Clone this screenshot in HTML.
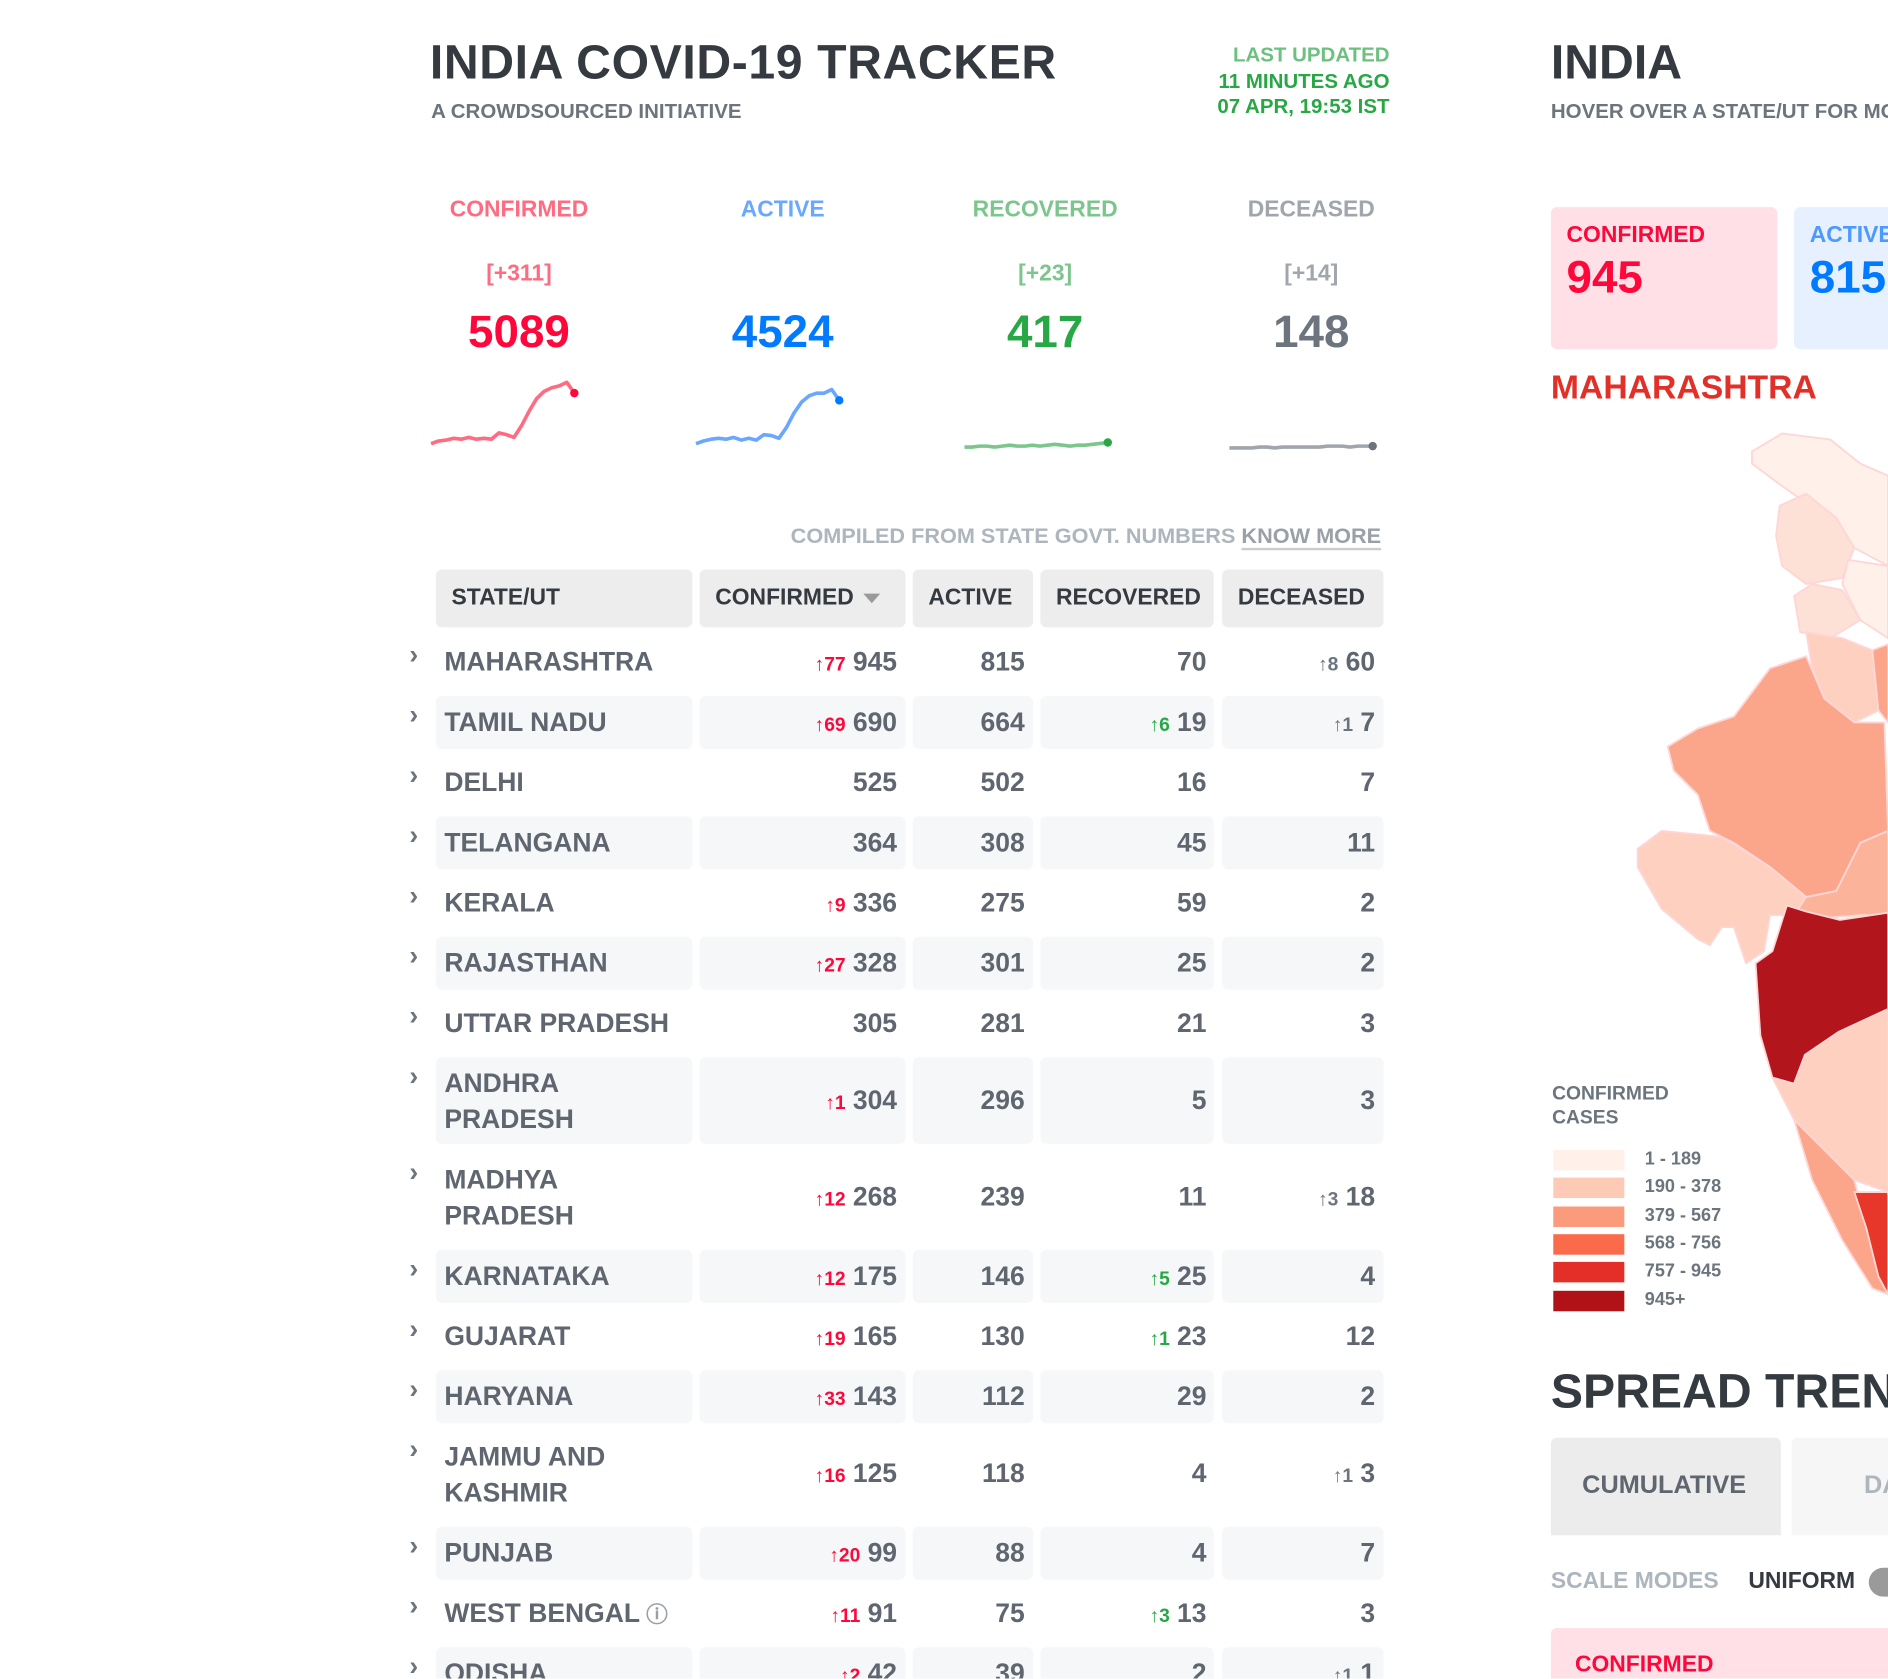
<!DOCTYPE html>
<html><head><meta charset="utf-8">
<style>
html,body{margin:0;padding:0;background:#fff;width:1888px;height:1678px;overflow:hidden;font-family:"Liberation Sans",sans-serif;}
#wrap{position:absolute;left:0;top:0;width:1568px;height:1394px;transform:scale(1.2041);transform-origin:0 0;overflow:hidden;}
.a{position:absolute;white-space:nowrap;font-weight:bold;}
.cell{position:absolute;border-radius:5px;box-sizing:border-box;}
.hd{background:#ededed;color:#343a40;font-size:19px;line-height:48px;padding-left:13px;font-weight:bold;}
.num{font-size:22px;color:#5f6670;font-weight:bold;position:absolute;text-align:right;}
.dl{font-size:16px;margin-right:6px;}
</style></head><body>
<div id="wrap">
<div class="a" style="left:357px;top:30px;font-size:40px;color:#343a40;letter-spacing:0.5px">INDIA COVID-19 TRACKER</div>
<div class="a" style="left:358px;top:83px;font-size:17px;color:#6c757d">A CROWDSOURCED INITIATIVE</div>
<div class="a" style="right:414px;top:35px;font-size:17px;line-height:21.5px;text-align:right;color:#28a745"><span style="color:#6cc17e">LAST UPDATED</span><br>11 MINUTES AGO<br>07 APR, 19:53 IST</div>
<div class="a" style="left:1288px;top:30px;font-size:40px;color:#343a40">INDIA</div>
<div class="a" style="left:1288px;top:83px;font-size:17px;color:#6c757d">HOVER OVER A STATE/UT FOR MORE DETAILS</div>

<div id="stats"></div>
<svg id="spark" width="1568" height="420" style="position:absolute;left:0;top:0"></svg>

<div class="a" style="right:421px;top:435px;font-size:18px;color:#adb5bd">COMPILED FROM STATE GOVT. NUMBERS <span style="color:#9aa0a6;border-bottom:2px solid #ccc">KNOW MORE</span></div>

<div class="cell hd" style="left:362px;top:473px;width:213px;height:48px">STATE/UT</div>
<div class="cell hd" style="left:581px;top:473px;width:171px;height:48px">CONFIRMED <span style="display:inline-block;width:0;height:0;border-left:7px solid transparent;border-right:7px solid transparent;border-top:8px solid #9a9a9a;vertical-align:middle;margin-left:3px"></span></div>
<div class="cell hd" style="left:758px;top:473px;width:100px;height:48px">ACTIVE</div>
<div class="cell hd" style="left:864px;top:473px;width:144px;height:48px">RECOVERED</div>
<div class="cell hd" style="left:1015px;top:473px;width:134px;height:48px">DECEASED</div>
<div id="rows"></div>

<div class="cell" style="left:1288px;top:172px;width:188px;height:118px;background:#ffe0e6"></div>
<div class="a" style="left:1301px;top:185px;font-size:19px;color:#ff073a">CONFIRMED</div>
<div class="a" style="left:1301px;top:210px;font-size:38px;color:#ff073a">945</div>
<div class="cell" style="left:1490px;top:172px;width:188px;height:118px;background:#e6f0ff"></div>
<div class="a" style="left:1503px;top:185px;font-size:19px;color:#4c9aff">ACTIVE</div>
<div class="a" style="left:1503px;top:210px;font-size:38px;color:#007bff">815</div>
<div class="a" style="left:1288px;top:306px;font-size:28px;color:#e23028">MAHARASHTRA</div>

<svg width="1568" height="1394" style="position:absolute;left:0;top:0" stroke="#ffd6d6" stroke-width="1.5">
<polygon fill="#fff0ea" points="1455,375 1480,360 1520,365 1545,385 1568,395 1568,470 1540,455 1510,425 1475,400 1455,385"/>
<polygon fill="#fde0d6" points="1478,420 1500,410 1525,430 1540,455 1530,480 1500,485 1480,470 1475,445"/>
<polygon fill="#fff0ea" points="1535,465 1568,470 1568,530 1545,515 1530,485"/>
<polygon fill="#fde0d6" points="1490,495 1505,485 1530,490 1545,515 1520,530 1495,525"/>
<polygon fill="#fdd0c0" points="1500,525 1530,530 1555,540 1560,590 1540,600 1515,580 1505,555"/>
<polygon fill="#fba68a" points="1555,540 1568,535 1568,600 1560,590"/>
<polygon fill="#fba68a" points="1385,620 1410,605 1440,595 1470,555 1500,545 1515,580 1540,600 1565,600 1568,690 1545,700 1525,740 1500,745 1470,720 1440,700 1420,690 1410,660 1390,640"/>
<polygon fill="#fdd0c0" points="1360,705 1380,690 1430,695 1470,720 1500,745 1490,760 1470,760 1465,790 1450,800 1440,770 1430,770 1420,785 1410,780 1380,755 1360,720"/>
<polygon fill="#fbb49a" points="1500,745 1525,740 1545,700 1568,690 1568,760 1545,760 1520,762 1490,760"/>
<polygon fill="#b3151d" points="1458,800 1472,790 1484,752 1500,757 1528,764 1568,758 1568,838 1527,857 1499,876 1490,900 1472,895 1462,860"/>
<polygon fill="#fdd0c0" points="1472,895 1490,900 1499,876 1527,857 1568,838 1568,990 1540,980 1510,950 1490,930"/>
<polygon fill="#fba68a" points="1490,930 1510,950 1540,980 1550,1020 1560,1060 1568,1075 1555,1070 1530,1030 1505,980"/>
<polygon fill="#e6372a" points="1540,990 1568,990 1568,1075 1560,1060 1550,1020"/>
</svg>

<div class="a" style="left:1289px;top:899px;font-size:16px;line-height:20px;color:#6c757d">CONFIRMED<br>CASES</div>
<div id="legend"></div>

<div class="a" style="left:1288px;top:1134px;font-size:40px;color:#343a40">SPREAD TRENDS</div>
<div class="cell" style="left:1288px;top:1194px;width:191px;height:81px;background:#ececec;border-radius:5px 5px 0 0"></div>
<div class="a" style="left:1314px;top:1222px;font-size:21px;color:#5f6670">CUMULATIVE</div>
<div class="cell" style="left:1488px;top:1194px;width:191px;height:81px;background:#f6f6f6;border-radius:5px 5px 0 0"></div>
<div class="a" style="left:1548px;top:1222px;font-size:21px;color:#adb5bd">DAILY</div>
<div class="a" style="left:1288px;top:1303px;font-size:19px;color:#adb5bd">SCALE MODES</div>
<div class="a" style="left:1452px;top:1303px;font-size:19px;color:#343a40">UNIFORM</div>
<div class="cell" style="left:1552px;top:1302px;width:40px;height:24px;border-radius:12px;background:#9a9a9a"></div>
<div class="cell" style="left:1288px;top:1352px;width:300px;height:60px;background:#ffe0e6"></div>
<div class="a" style="left:1308px;top:1372px;font-size:19px;color:#ff073a">CONFIRMED</div>
</div>

<script>
const statLabels = ["CONFIRMED","ACTIVE","RECOVERED","DECEASED"];
const statDeltas = ["[+311]","","[+23]","[+14]"];
const statTotals = ["5089","4524","417","148"];
const statCenters = [431,650,868,1089];
const statLabelColors = ["#ff6b81","#6aa8ff","#7cc58c","#a0a6ab"];
const statColors = ["#ff073a","#007bff","#28a745","#6c757d"];
const statsEl = document.getElementById('stats');
statLabels.forEach((l,i)=>{
  const mk=(txt,tp,size,col,name)=>{const d=document.createElement('div');d.className='a';d.textContent=txt;
    d.style.cssText=`left:${statCenters[i]-150}px;width:300px;text-align:center;top:${tp}px;font-size:${size}px;color:${col}`;
    
    
    statsEl.appendChild(d);};
  mk(l,164,19,statLabelColors[i],'stat-label');
  mk(statDeltas[i],217,19,statLabelColors[i],'stat-delta');
  mk(statTotals[i],255,38,statColors[i],'stat-total');
});

const sparkConfirmed = [2,5,6,8,7,9,7,8,7,14,12,9,22,38,52,60,64,66,70,58];
const sparkActive = [2,5,7,8,7,9,6,8,6,12,11,8,20,36,48,55,58,58,62,50];
const sparkRecovered = [1,1,2,2,1,2,3,2,2,3,2,3,4,3,2,3,3,4,5,6];
const sparkDeceased = [0,0,0,0,1,1,0,1,1,1,1,1,1,2,2,2,1,2,2,2];
const sparkSeries=[sparkConfirmed,sparkActive,sparkRecovered,sparkDeceased];
const sparkLeft=[358,578,801,1021];
const sparkW=119, sparkBase=[370,370,372,372], sparkScale=0.75;
const sparkSvg=document.getElementById('spark');
const lineCols=["#ff6b81","#6aa8ff","#7cc58c","#a0a6ab"];
sparkSeries.forEach((s,i)=>{
  const x=j=>sparkLeft[i]+j*sparkW/(s.length-1);
  const y=v=>sparkBase[i]-v*sparkScale;
  const p=document.createElementNS('http://www.w3.org/2000/svg','polyline');
  p.setAttribute('points',s.map((v,j)=>x(j)+','+y(v)).join(' '));
  p.setAttribute('fill','none');p.setAttribute('stroke',lineCols[i]);p.setAttribute('stroke-width','3');p.setAttribute('stroke-linejoin','round');
  
  
  sparkSvg.appendChild(p);
  const c=document.createElementNS('http://www.w3.org/2000/svg','circle');
  c.setAttribute('cx',x(s.length-1));c.setAttribute('cy',y(s[s.length-1]));c.setAttribute('r','3.5');c.setAttribute('fill',statColors[i]);
  
  
  sparkSvg.appendChild(c);
});

const stateNames=["MAHARASHTRA","TAMIL NADU","DELHI","TELANGANA","KERALA","RAJASTHAN","UTTAR PRADESH","ANDHRA\nPRADESH","MADHYA\nPRADESH","KARNATAKA","GUJARAT","HARYANA","JAMMU AND\nKASHMIR","PUNJAB","WEST BENGAL","ODISHA"];
const confirmed=[945,690,525,364,336,328,305,304,268,175,165,143,125,99,91,42];
const active=[815,664,502,308,275,301,281,296,239,146,130,112,118,88,75,39];
const recovered=[70,19,16,45,59,25,21,5,11,25,23,29,4,4,13,2];
const deceased=[60,7,7,11,2,2,3,3,18,4,12,2,3,7,3,1];
const dConfirmed=[77,69,0,0,9,27,0,1,12,12,19,33,16,20,11,2];
const dRecovered=[0,6,0,0,0,0,0,0,0,5,1,0,0,0,3,0];
const dDeceased=[8,1,0,0,0,0,0,0,3,0,0,0,1,0,0,1];
const rowsEl=document.getElementById('rows');
let rowTop=528;
const cols=[[362,213],[581,171],[758,100],[864,144],[1015,134]];
stateNames.forEach((n,i)=>{
  const two=n.includes('\n'); const h=two?72:44;
  const odd=i%2===1;
  cols.forEach((c,k)=>{
    const d=document.createElement('div');d.className='cell';
    d.style.cssText=`left:${c[0]}px;top:${rowTop}px;width:${c[1]}px;height:${h}px;background:${odd?'#f6f7f8':'#fff'}`;
    
    
    rowsEl.appendChild(d);
  });
  const ch=document.createElement('div');ch.className='a';ch.textContent='›';
  ch.style.cssText=`left:340px;top:${rowTop+3}px;font-size:22px;color:#6c757d`;
  
  
  rowsEl.appendChild(ch);
  const nm=document.createElement('div');nm.className='num';
  nm.style.cssText=`left:369px;top:${rowTop+7}px;text-align:left;line-height:30px;white-space:pre`;
  nm.textContent=n;
  if(n==="WEST BENGAL"){const q=document.createElement('span');q.textContent=' ⓘ';q.style.cssText='font-size:18px;color:#9aa0a6';nm.appendChild(q);}
  
  
  rowsEl.appendChild(nm);
  const cy=rowTop+h/2-15;
  const put=(right,val,delta,dcol,name)=>{
    const d=document.createElement('div');d.className='num';
    d.style.cssText=`right:${1568-right}px;top:${cy}px;line-height:30px;white-space:nowrap`;
    if(delta){const s=document.createElement('span');s.className='dl';s.style.color=dcol;s.textContent='↑'+delta;d.appendChild(s);}
    d.appendChild(document.createTextNode(val));
    
    
    rowsEl.appendChild(d);
  };
  put(745,confirmed[i],dConfirmed[i],'#ff073a','confirmed-value');
  put(851,active[i],0,'','active-value');
  put(1002,recovered[i],dRecovered[i],'#28a745','recovered-value');
  put(1142,deceased[i],dDeceased[i],'#6c757d','deceased-value');
  rowTop+=h+(two?8:6);
});

const legendLabels=["1 - 189","190 - 378","379 - 567","568 - 756","757 - 945","945+"];
const legendColors=["#fff0ea","#fdcab6","#fc9a7c","#fb6a4a","#e32f27","#b11218"];
const lg=document.getElementById('legend');
legendLabels.forEach((l,i)=>{
  const y=955+i*23.3;
  const s=document.createElement('div');s.className='cell';
  s.style.cssText=`left:1290px;top:${y}px;width:59px;height:17px;border-radius:0;background:${legendColors[i]}`;
  
  
  lg.appendChild(s);
  const t=document.createElement('div');t.className='a';t.textContent=l;
  t.style.cssText=`left:1366px;top:${y-1}px;font-size:15px;color:#6c757d`;
  
  
  lg.appendChild(t);
});
</script>
</body></html>
